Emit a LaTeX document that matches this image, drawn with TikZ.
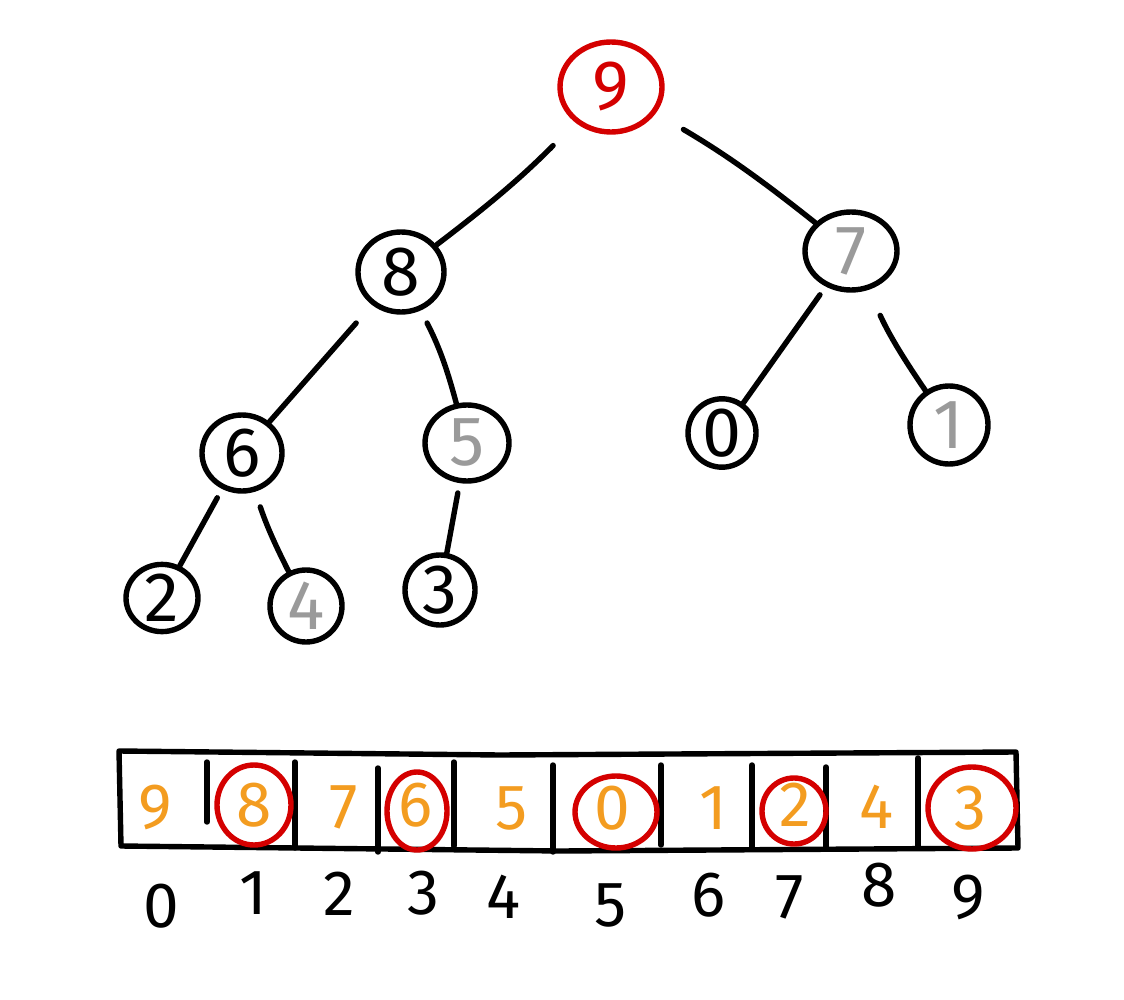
\documentclass[tikz,border=0pt]{standalone}
\usepackage{fontspec}
\setmainfont{Fira Sans}
\usetikzlibrary{shapes.geometric}
\definecolor{hred}{HTML}{D40000}
\definecolor{horange}{HTML}{F39C20}
\definecolor{hgray}{HTML}{9A9A9A}
\begin{document}
\begin{tikzpicture}[x=0.5pt,y=-0.5pt,
  pen/.style={line width=2.7pt,line cap=round,line join=round},
  heapnode/.style={pen,draw,ellipse,inner sep=0pt,font=\fontsize{35}{40}\selectfont},
  link/.style={pen},
  cell/.style={font=\fontsize{32}{36}\selectfont,text=horange},
  ring/.style={pen,draw=hred,ellipse,inner sep=0pt},
  idx/.style={font=\fontsize{32}{36}\selectfont}]
\useasboundingbox (0,0) rectangle (1124,1000);

% heap drawn as a tree
\node[heapnode,draw=hred,text=hred,minimum width=51pt,minimum height=45pt] (n9) at (611,87) {9};
\node[heapnode,minimum width=43pt,minimum height=40pt] (n8) at (401,272) {8};
\node[heapnode,text=hgray,minimum width=46pt,minimum height=39pt] (n7) at (851,251) {7};
\node[heapnode,minimum width=40pt,minimum height=38pt] (n6) at (242,453) {6};
\node[heapnode,text=hgray,minimum width=42pt,minimum height=38pt] (n5) at (467,443) {5};
\node[heapnode,minimum width=34pt,minimum height=33pt] (n0) at (722,433) {0};
\node[heapnode,text=hgray,minimum width=39pt,minimum height=39pt] (n1) at (949,425) {1};
\node[heapnode,minimum width=36pt,minimum height=33pt] (n2) at (162,598) {2};
\node[heapnode,text=hgray,minimum width=36pt,minimum height=36pt] (n4) at (306,606) {4};
\node[heapnode,minimum width=35pt,minimum height=35pt] (n3) at (440,590) {3};

\draw[link,shorten <=16pt] (n9) to[bend left=4] (n8);
\draw[link,shorten <=16pt] (n9) to[bend left=4] (n7);
\draw[link,shorten <=12pt] (n8) -- (n6);
\draw[link,shorten <=7pt] (n8) to[bend left=6] (n5);
\draw[link,shorten <=5pt] (n7) -- (n0);
\draw[link,shorten <=14pt] (n7) to[bend right=5] (n1);
\draw[link,shorten <=5pt] (n6) -- (n2);
\draw[link,shorten <=8pt] (n6) to[bend right=4] (n4);
\draw[link,shorten <=5pt] (n5) -- (n3);

% the same heap stored as an array
\coordinate (tl) at (119,751);
\coordinate (tr) at (1016,752);
\coordinate (br) at (1018,848);
\coordinate (bl) at (121,846);
\draw[pen] (tl) -- (500,755) -- (tr) -- (br) -- (560,851) -- (bl) -- cycle;
\foreach \x/\a/\b in {207/762/822, 295/762/848, 378/768/852, 454/762/846, 553/765/852, 661/765/845, 752/765/848, 826/767/848, 918/758/848}
  \draw[pen] (\x,\a) -- (\x,\b);

\node[cell] (c0) at (155,807) {9};
\node[cell] (c1) at (254,805) {8};
\node[cell] (c2) at (344,807) {7};
\node[cell] (c3) at (416,805) {6};
\node[cell] (c4) at (512,808) {5};
\node[cell] (c5) at (612,808) {0};
\node[cell] (c6) at (713,808) {1};
\node[cell] (c7) at (795,805) {2};
\node[cell] (c8) at (877,807) {4};
\node[cell] (c9) at (970,808) {3};

\node[ring,minimum width=37pt,minimum height=40pt] (m1) at (c1) {};
\node[ring,minimum width=30pt,minimum height=39pt] (m3) at (417,811) {};
\node[ring,minimum width=41pt,minimum height=36pt] (m5) at (616,812) {};
\node[ring,minimum width=32pt,minimum height=33pt] (m7) at (794,811) {};
\node[ring,minimum width=44pt,minimum height=41pt] (m9) at (972,808) {};

% array indices
\node[idx] (i0) at (161,906) {0};
\node[idx] (i1) at (253,893) {1};
\node[idx] (i2) at (339,894) {2};
\node[idx] (i3) at (423,893) {3};
\node[idx] (i4) at (504,897) {4};
\node[idx] (i5) at (611,905) {5};
\node[idx] (i6) at (709,895) {6};
\node[idx] (i7) at (790,897) {7};
\node[idx] (i8) at (879,885) {8};
\node[idx] (i9) at (968,897) {9};
\end{tikzpicture}
\end{document}
